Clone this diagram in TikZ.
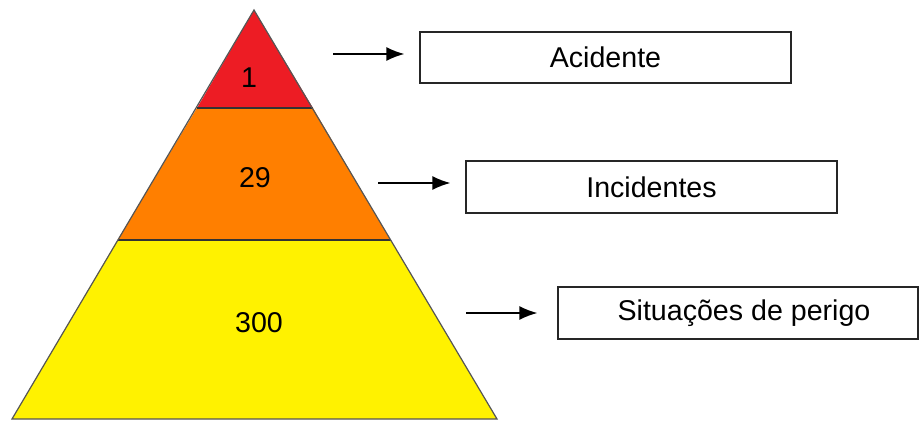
\documentclass[tikz,border=0pt]{standalone}
\usepackage{fontspec}
\setmainfont{Liberation Sans}
\usetikzlibrary{arrows.meta,positioning}
\definecolor{pyrred}{RGB}{237,28,36}
\definecolor{pyrorange}{RGB}{255,127,0}
\definecolor{pyryellow}{RGB}{255,242,0}
\definecolor{pyredge}{RGB}{85,85,85}

\tikzset{
  levelbox/.style={draw=black!85,line width=1.2pt,minimum width=371pt,minimum height=51pt,inner sep=0pt},
  levelnum/.style={inner sep=0pt},
  pointer/.style={-{Latex[length=18pt,width=14pt]},line width=1.6pt,shorten >=15pt}
}

\begin{document}
\begin{tikzpicture}[x=1pt,y=1pt,font=\fontsize{28.6}{34}\selectfont]
\useasboundingbox (0,0) rectangle (920,421);
% pyramid bands
\fill[pyryellow] (12,2) -- (497,2) -- (390.5,181) -- (117.5,181) -- cycle;
\fill[pyrorange] (117.5,181) -- (390.5,181) -- (313,313) -- (197,313) -- cycle;
\fill[pyrred] (197,313) -- (313,313) -- (254,411) -- cycle;
\draw[black!80,line width=1.2pt] (117.5,181) -- (390.5,181);
\draw[black!80,line width=1.2pt] (197,313) -- (313,313);
\draw[pyredge,line width=1.2pt] (12,2) -- (497,2) -- (254,411) -- cycle;
% numbers
\node[levelnum] (n1) at (249,343) {1};
\node[levelnum] (n29) at (255,243) {29};
\node[levelnum] (n300) at (259,98) {300};
% labels
\node[levelbox] (acidente) at (605.5,363.5) {Acidente};
\node[levelbox,minimum height=52pt] (incidentes) at (651.5,234) {Incidentes};
\node[levelbox,minimum width=360pt,minimum height=52pt] (perigo) at (738,108) {\hspace*{12pt}Situações de perigo};
% arrows
\coordinate (t1) at (333,367);
\coordinate (t2) at (378,238);
\coordinate (t3) at (466,108);
\draw[pointer] (t1) -- (t1 -| acidente.west);
\draw[pointer] (t2) -- (t2 -| incidentes.west);
\draw[pointer,shorten >=20pt] (t3) -- (t3 -| perigo.west);
\end{tikzpicture}
\end{document}
